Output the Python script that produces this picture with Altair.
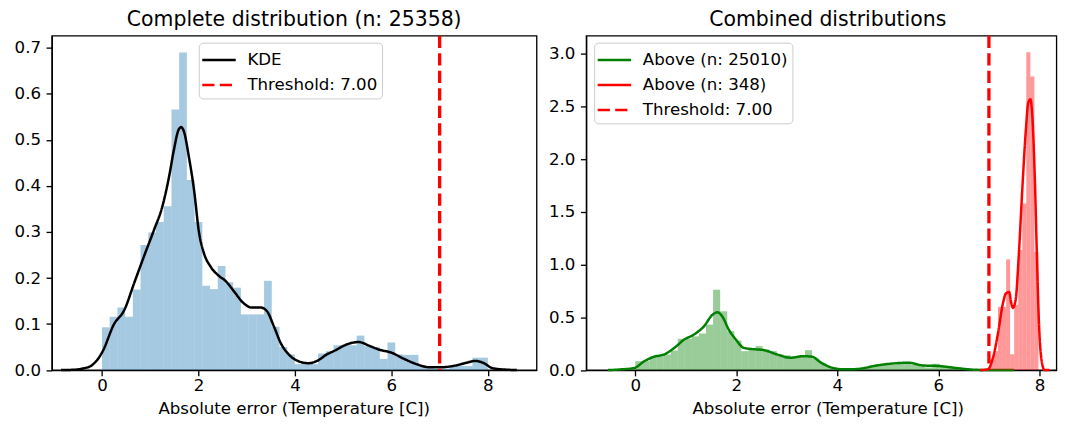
import altair as alt
import pandas as pd

FONT = "DejaVu Sans"

# ---------------- Left panel: complete distribution ----------------
left_bin_width = 0.16
left_hist = [0.093, 0.116, 0.136, 0.116, 0.175, 0.272, 0.299, 0.322, 0.356, 0.566,
             0.690, 0.413, 0.322, 0.183, 0.176, 0.226, 0.191, 0.179, 0.121, 0.121,
             0.121, 0.194, 0.094, 0.050, 0.034, 0.013, 0.013, 0.013, 0.036, 0.041,
             0.054, 0.054, 0.054, 0.075, 0.052, 0.050, 0.024, 0.060, 0.034, 0.033,
             0.033, 0.009, 0.004, 0.002, 0.003, 0.009, 0.009, 0.009, 0.027, 0.027]

left_kde_x = [-0.85, -0.55, -0.37, -0.23, -0.10, 0.01, 0.25, 0.46, 0.67, 0.87,
              1.08, 1.25, 1.39, 1.49, 1.58, 1.64, 1.70, 1.80, 1.91, 2.01,
              2.11, 2.25, 2.42, 2.56, 2.73, 2.93, 3.10, 3.29, 3.42, 3.56,
              3.70, 3.90, 4.11, 4.28, 4.46, 4.66, 4.80, 5.08, 5.32, 5.56,
              5.76, 6.00, 6.25, 6.52, 6.80, 7.00, 7.28, 7.56, 7.73, 7.90,
              8.10, 8.38, 8.60]
left_kde_y = [0.000, 0.001, 0.004, 0.009, 0.022, 0.040, 0.100, 0.130, 0.190, 0.247,
              0.305, 0.355, 0.420, 0.478, 0.520, 0.528, 0.518, 0.464, 0.390, 0.300,
              0.255, 0.225, 0.205, 0.194, 0.172, 0.146, 0.136, 0.136, 0.128, 0.096,
              0.060, 0.031, 0.018, 0.015, 0.020, 0.034, 0.041, 0.056, 0.061, 0.052,
              0.044, 0.038, 0.025, 0.013, 0.006, 0.006, 0.009, 0.016, 0.020, 0.016,
              0.004, 0.001, 0.000]

# ---------------- Right panel: combined distributions ----------------
green_bin_width = 0.14
green_hist = [0.085, 0.085, 0.127, 0.127, 0.148, 0.186, 0.297, 0.297, 0.320, 0.347,
              0.432, 0.763, 0.558, 0.369, 0.280, 0.180, 0.190, 0.227, 0.196, 0.180,
              0.148, 0.140, 0.117, 0.140, 0.189, 0.110, 0.070, 0.032, 0.016, 0.012,
              0.012, 0.015, 0.030, 0.040, 0.045, 0.050, 0.050, 0.060, 0.075, 0.050,
              0.045, 0.025, 0.060, 0.035, 0.035, 0.030, 0.012, 0.010, 0.010, 0.008]

red_bin_start0 = 7.02
red_bin_width = 0.08
red_hist = [0.10, 0.18, 0.60, 0.60, 1.05, 0.15, 0.62, 1.14, 1.58, 3.015, 2.785, 1.12]

green_kde_x = [-0.54, -0.28, -0.02, 0.18, 0.37, 0.57, 0.77, 0.97, 1.16, 1.36,
               1.53, 1.63, 1.72, 1.85, 1.99, 2.15, 2.30, 2.54, 2.81, 3.07,
               3.33, 3.50, 3.66, 3.86, 4.12, 4.39, 4.78, 5.11, 5.40, 5.70,
               6.03, 6.36, 6.75, 7.10, 7.50]
green_kde_y = [0.000, 0.007, 0.020, 0.085, 0.127, 0.148, 0.210, 0.290, 0.337, 0.416,
               0.526, 0.548, 0.510, 0.385, 0.290, 0.210, 0.200, 0.190, 0.148, 0.117,
               0.132, 0.127, 0.076, 0.028, 0.007, 0.010, 0.044, 0.063, 0.070, 0.044,
               0.038, 0.019, 0.003, 0.000, 0.000]

red_kde_x = [6.82, 6.98, 7.08, 7.18, 7.28, 7.34, 7.40, 7.44, 7.475, 7.53,
             7.59, 7.66, 7.73, 7.78, 7.82, 7.86, 7.91, 7.95, 7.99, 8.04,
             8.10, 8.20]
red_kde_y = [0.000, 0.007, 0.117, 0.350, 0.640, 0.730, 0.740, 0.640, 0.590, 0.670,
             1.080, 1.710, 2.270, 2.540, 2.570, 2.400, 1.800, 1.080, 0.450, 0.100,
             0.000, 0.000]

threshold = 7.0
left_titles = ["KDE", "Threshold: 7.00"]
right_titles = ["Above (n: 25010)", "Above (n: 348)", "Threshold: 7.00"]
x_ticks = [0, 2, 4, 6, 8]
left_y_ticks = [0.0, 0.1, 0.2, 0.3, 0.4, 0.5, 0.6, 0.7]
right_y_ticks = [0.0, 0.5, 1.0, 1.5, 2.0, 2.5, 3.0]

# ---------------- data frames ----------------
df_lh = pd.DataFrame({
    "start": [round(i * left_bin_width, 4) for i in range(len(left_hist))],
    "end": [round((i + 1) * left_bin_width, 4) for i in range(len(left_hist))],
    "density": left_hist,
})
df_lk = pd.DataFrame({"x": left_kde_x, "y": left_kde_y, "series": left_titles[0]})
df_lt = pd.DataFrame({"x": [threshold], "series": [left_titles[1]]})

df_gh = pd.DataFrame({
    "start": [round(i * green_bin_width, 4) for i in range(len(green_hist))],
    "end": [round((i + 1) * green_bin_width, 4) for i in range(len(green_hist))],
    "density": green_hist,
})
df_rh = pd.DataFrame({
    "start": [round(red_bin_start0 + i * red_bin_width, 4) for i in range(len(red_hist))],
    "end": [round(red_bin_start0 + (i + 1) * red_bin_width, 4) for i in range(len(red_hist))],
    "density": red_hist,
})
df_gk = pd.DataFrame({"x": green_kde_x, "y": green_kde_y, "series": right_titles[0]})
df_rk = pd.DataFrame({"x": red_kde_x, "y": red_kde_y, "series": right_titles[1]})
df_rt = pd.DataFrame({"x": [threshold], "series": [right_titles[2]]})

# ---------------- styling ----------------
FS = 16.7
DASH = [12.3, 5.3]
XTITLE = "Absolute error (Temperature [C])"
LEG_SYMBOL = "M-1.4,0L1.4,0"   # a legend handle longer than the row pitch


def make_legend(lx, ly):
    return alt.Legend(
        title=None, orient="none", legendX=lx, legendY=ly,
        symbolType=LEG_SYMBOL, symbolSize=576, symbolStrokeWidth=2.5,
        symbolOffset=2.8, symbolFillColor="transparent",
        labelFontSize=FS, labelFont=FONT, labelColor="black", labelOffset=15,
        labelLimit=400, padding=4, rowPadding=2,
        fillColor="white", strokeColor="#cccccc", cornerRadius=4,
    )


def x_axis(title_x):
    return alt.Axis(values=x_ticks, format="d", title=XTITLE, titleX=title_x,
                    titleY=30.8, labelPadding=2)


def y_axis(vals):
    return alt.Axis(values=vals, format=".1f", title=None, labelPadding=5.5)


# ---------------- left chart ----------------
LW, LH = 486.6, 335.7
xl = alt.Scale(domain=[-1.04, 9.01], nice=False, zero=False)
yl = alt.Scale(domain=[0, 0.7266], nice=False, zero=False)
cl = alt.Scale(domain=left_titles, range=["black", "red"])
dl = alt.Scale(domain=left_titles, range=[[1, 0], DASH])
leg_l = make_legend(147.5, 7)

bars_l = alt.Chart(df_lh).mark_rect(color="#1f77b4", opacity=0.4).encode(
    x=alt.X("start:Q", scale=xl, axis=x_axis(242.8)),
    x2="end:Q",
    y=alt.Y("density:Q", scale=yl, axis=y_axis(left_y_ticks)),
    y2=alt.datum(0),
)
kde_l = alt.Chart(df_lk).mark_line(strokeWidth=2.5, interpolate="monotone").encode(
    x=alt.X("x:Q", scale=xl),
    y=alt.Y("y:Q", scale=yl),
    color=alt.Color("series:N", scale=cl, legend=leg_l),
    strokeDash=alt.StrokeDash("series:N", scale=dl, legend=leg_l),
)
thr_l = alt.Chart(df_lt).mark_rule(strokeWidth=3.3).encode(
    x=alt.X("x:Q", scale=xl),
    color=alt.Color("series:N", scale=cl, legend=leg_l),
    strokeDash=alt.StrokeDash("series:N", scale=dl, legend=leg_l),
)
left = alt.layer(bars_l, kde_l, thr_l).properties(
    width=LW, height=LH,
    title=alt.TitleParams("Complete distribution (n: 25358)"),
)

# ---------------- right chart ----------------
RW = 472
xr = alt.Scale(domain=[-0.972, -0.972 + RW / 50.71], nice=False, zero=False)
yr = alt.Scale(domain=[0, 3.173], nice=False, zero=False)
cr = alt.Scale(domain=right_titles, range=["green", "red", "red"])
dr = alt.Scale(domain=right_titles, range=[[1, 0], [1, 0], DASH])
leg_r = make_legend(8, 7)

gbars = alt.Chart(df_gh).mark_rect(color="green", opacity=0.4).encode(
    x=alt.X("start:Q", scale=xr, axis=x_axis(242.5)),
    x2="end:Q",
    y=alt.Y("density:Q", scale=yr, axis=y_axis(right_y_ticks)),
    y2=alt.datum(0),
)
gkde = alt.Chart(df_gk).mark_line(strokeWidth=2.5, interpolate="monotone").encode(
    x=alt.X("x:Q", scale=xr),
    y=alt.Y("y:Q", scale=yr),
    color=alt.Color("series:N", scale=cr, legend=leg_r),
    strokeDash=alt.StrokeDash("series:N", scale=dr, legend=leg_r),
)
rbars = alt.Chart(df_rh).mark_rect(color="red", opacity=0.4).encode(
    x=alt.X("start:Q", scale=xr),
    x2="end:Q",
    y=alt.Y("density:Q", scale=yr),
    y2=alt.datum(0),
)
rkde = alt.Chart(df_rk).mark_line(strokeWidth=2.5, interpolate="monotone").encode(
    x=alt.X("x:Q", scale=xr),
    y=alt.Y("y:Q", scale=yr),
    color=alt.Color("series:N", scale=cr, legend=leg_r),
    strokeDash=alt.StrokeDash("series:N", scale=dr, legend=leg_r),
)
thr_r = alt.Chart(df_rt).mark_rule(strokeWidth=3.3).encode(
    x=alt.X("x:Q", scale=xr),
    color=alt.Color("series:N", scale=cr, legend=leg_r),
    strokeDash=alt.StrokeDash("series:N", scale=dr, legend=leg_r),
)
right = alt.layer(gbars, gkde, rbars, rkde, thr_r).properties(
    width=RW, height=LH,
    title=alt.TitleParams("Combined distributions", dx=6.5),
)

chart = alt.hconcat(left, right, spacing=9.4).resolve_scale(
    x="independent", y="independent", color="independent", strokeDash="independent"
).resolve_legend(color="independent", strokeDash="independent").properties(
    padding={"left": 5, "top": 0, "right": 0, "bottom": 0},
).configure(font=FONT).configure_view(
    stroke="black", strokeWidth=1.33
).configure_axis(
    domainColor="black", domainWidth=1.33, tickColor="black", tickWidth=1.33,
    tickSize=5.8, labelFontSize=FS, labelColor="black", labelFont=FONT,
    titleFontSize=FS, titleFontWeight="normal", titleColor="black", titleFont=FONT,
    grid=False,
).configure_title(
    fontSize=20.5, fontWeight="normal", color="black", font=FONT, offset=4,
)

chart.save("out.html", embed_options={"renderer": "svg", "actions": False})
